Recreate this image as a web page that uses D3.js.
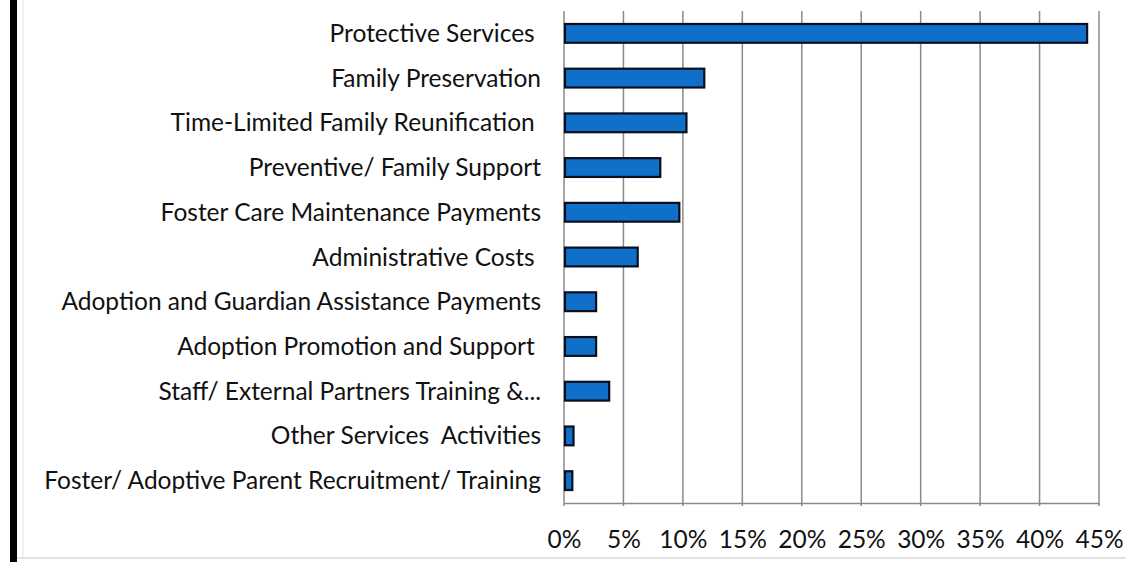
<!DOCTYPE html>
<html>
<head>
<meta charset="utf-8">
<script src="https://cdn.jsdelivr.net/npm/d3@7"></script>
<style>
  html, body { margin: 0; padding: 0; background: #fff; }
  svg text { font-family: Lato, "Open Sans", sans-serif; fill: #111; white-space: pre; }
</style>
</head>
<body>
<script>
// data (share of spending, %)
const categories = [
  "Protective Services ",
  "Family Preservation",
  "Time-Limited Family Reunification ",
  "Preventive/ Family Support",
  "Foster Care Maintenance Payments",
  "Administrative Costs ",
  "Adoption and Guardian Assistance Payments",
  "Adoption Promotion and Support ",
  "Staff/ External Partners Training &...",
  "Other Services  Activities",
  "Foster/ Adoptive Parent Recruitment/ Training"
];
const shares = [44.0, 11.8, 10.3, 8.1, 9.7, 6.2, 2.7, 2.7, 3.8, 0.8, 0.7];
const tickValues = [0, 5, 10, 15, 20, 25, 30, 35, 40, 45];

let margin = null,
    width = null,
    height = null;
let svg = null;
let x, y = null;

setupCanvasSize();
appendSvg("body");
appendFrame();
setupXScale();
setupYScale();
appendGrid();
appendXAxis();
appendBars();
appendLabels();

function setupCanvasSize() {
  margin = {top: 11, left: 564, bottom: 59, right: 27};
  width = 1126 - margin.left - margin.right;
  height = 562 - margin.top - margin.bottom;
}

function appendSvg(domElement) {
  const root = d3.select(domElement).append("svg")
    .attr("width", 1126)
    .attr("height", 562);
  root.append("rect")
    .attr("width", 1126).attr("height", 562).attr("fill", "#fff");
  svg = root.append("g")
    .attr("transform", `translate(${margin.left}, ${margin.top})`);
}

// the black band on the left and the faint border of the picture
function appendFrame() {
  const root = d3.select("svg");
  root.append("rect")
    .attr("x", 10).attr("y", 0)
    .attr("width", 7).attr("height", 562)
    .attr("fill", "#000");
  root.append("line")
    .attr("x1", 23).attr("x2", 23).attr("y1", 0).attr("y2", 558)
    .attr("stroke", "#e4e4e4").attr("stroke-width", 1);
  root.append("line")
    .attr("x1", 17).attr("x2", 1126).attr("y1", 558).attr("y2", 558)
    .attr("stroke", "#d8d8d8").attr("stroke-width", 1.5);
}

function setupXScale() {
  x = d3.scaleLinear()
    .domain([0, 45])
    .range([0, width]);
}

function setupYScale() {
  y = d3.scaleBand()
    .domain(categories)
    .range([0, height])
    .paddingInner(0.58)
    .paddingOuter(0.29);
}

function appendGrid() {
  svg.append("g")
    .attr("class", "grid")
    .selectAll("line")
    .data(tickValues)
    .enter()
      .append("line")
      .attr("x1", d => x(d))
      .attr("x2", d => x(d))
      .attr("y1", 0)
      .attr("y2", height + 3)
      .attr("stroke", "#8a8a8a")
      .attr("stroke-width", 1.5);
}

function appendXAxis() {
  const axis = svg.append("g")
    .attr("transform", `translate(0, ${height})`)
    .call(d3.axisBottom(x)
      .tickValues(tickValues)
      .tickSize(0)
      .tickPadding(28)
      .tickFormat(d => d + "%"));
  axis.select(".domain")
    .attr("stroke", "#8a8a8a")
    .attr("stroke-width", 1.5);
  axis.selectAll("text")
    .style("font-size", "24.5px")
    .attr("fill", "#111");
}

function appendBars() {
  svg.append("g")
    .selectAll("rect")
    .data(shares)
    .enter()
      .append("rect")
      .attr("x", x(0) + 1)
      .attr("y", (d, i) => y(categories[i]))
      .attr("width", d => x(d) - x(0) - 1)
      .attr("height", y.bandwidth())
      .attr("fill", "#0f6fc9")
      .attr("stroke", "#0a0f1e")
      .attr("stroke-width", 2.2);
}

function appendLabels() {
  svg.append("g")
    .selectAll("text")
    .data(categories)
    .enter()
      .append("text")
      .text(d => d)
      .attr("x", -23)
      .attr("y", d => y(d) + y.bandwidth() / 2)
      .attr("dy", "0.35em")
      .attr("text-anchor", "end")
      .style("font-size", "24.5px");
}
</script>
</body>
</html>
